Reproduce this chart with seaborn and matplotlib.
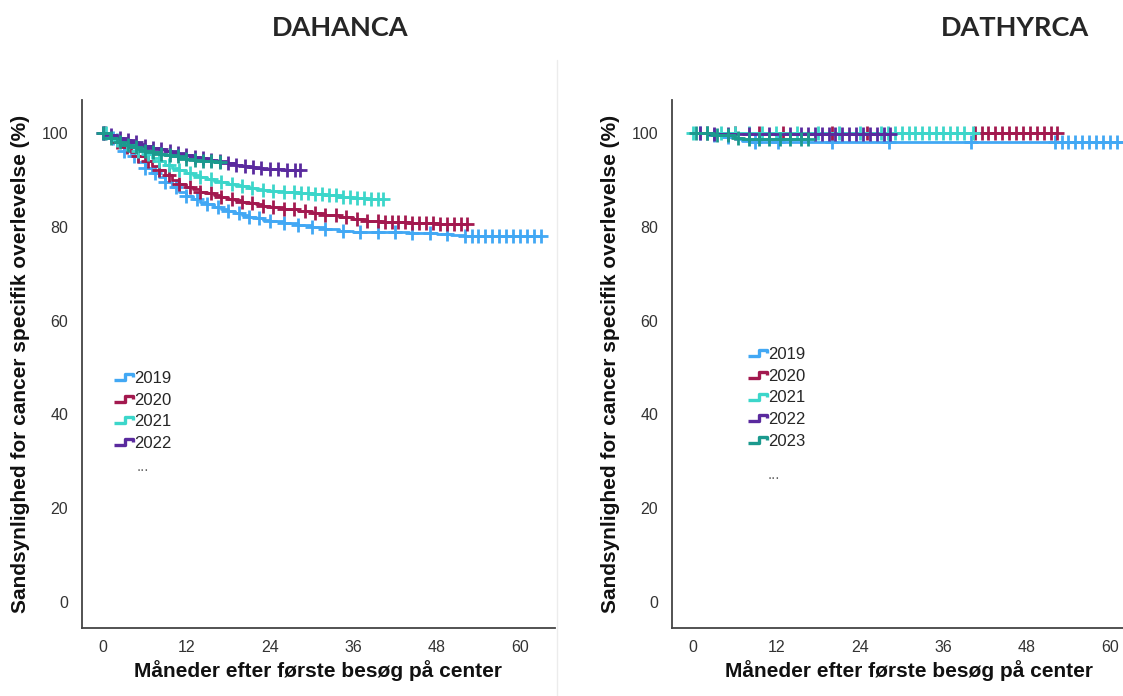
import numpy as np
import pandas as pd
import matplotlib
matplotlib.use("Agg")
import matplotlib.pyplot as plt
import seaborn as sns
from matplotlib.path import Path
from matplotlib.lines import Line2D

sns.set_theme(style="white")
plt.rcParams['font.family'] = ['Liberation Sans', 'DejaVu Sans']

years = ["2019", "2020", "2021", "2022", "2023"]
colors = ["#42A8F4", "#A3194F", "#3CD6CA", "#5A2A9E", "#1B9A8E"]
x_ticks = [0, 12, 24, 36, 48, 60]
y_ticks = [0, 20, 40, 60, 80, 100]

# ---------------- DAHANCA ----------------
dah_2019_t = [0, 1, 2, 3, 4, 5, 6, 7, 8, 9, 10, 11, 12, 13, 14, 15, 16, 17, 18, 19, 20, 21, 22, 23, 24,
              26, 28, 30, 32, 34, 36, 40, 44, 48, 50, 52, 63]
dah_2019_s = [100, 98.8, 97.5, 96.2, 95, 93.8, 92.5, 91.5, 90.5, 89.5, 88.5, 87.4, 86.5, 85.9, 85.3, 84.8,
              84.3, 83.8, 83.3, 82.9, 82.5, 82.1, 81.8, 81.5, 81.2,
              80.8, 80.4, 80.0, 79.5, 79.1, 78.9, 78.8, 78.7, 78.5, 78.3, 78.0, 78.0]
dah_2019_c = [0.2, 1.5, 3, 4.5, 6, 7.5, 9, 10.5, 12, 13.5, 15, 16.5, 18, 19.5, 21, 22.5, 24, 26, 28, 30, 32,
              34.5, 37, 39.5, 42, 44.5, 47, 49.5, 52, 53, 54, 55, 56, 57, 58, 59, 60, 61, 62, 63]

dah_2020_t = [0, 1, 2, 3, 4, 5, 6, 7, 8, 9, 10, 11, 12, 13, 14, 15, 16, 17, 18, 19, 20, 21, 22, 23, 24,
              26, 28, 30, 32, 34, 36, 38, 40, 44, 48, 52.3]
dah_2020_s = [100, 99, 98, 97, 96, 95, 94, 93, 92, 91, 90, 89.2, 88.5, 88, 87.5, 87.1, 86.8, 86.4, 86,
              85.6, 85.3, 85, 84.8, 84.5, 84.3,
              83.8, 83.4, 83.0, 82.5, 82.0, 81.6, 81.2, 80.9, 80.7, 80.6, 80.6]
dah_2020_c = [0.3, 2, 3.5, 5, 6.5, 8, 9.5, 11, 12.5, 14, 15.5, 17, 18.5, 20, 21.5, 23, 24.5, 26, 27.5, 29,
              30.5, 32, 33.5, 35, 36.5, 38, 39.5, 40.5, 41.5, 42.5, 43.5, 44.5, 45.5, 46.5, 47.5, 48.5,
              49.5, 50.5, 51.5, 52.3]

dah_2021_t = [0, 1, 2, 3, 4, 5, 6, 7, 8, 9, 10, 11, 12, 13, 14, 15, 16, 17, 18, 19, 20, 21, 22, 23, 24,
              26, 28, 30, 32, 34, 36, 38, 40.3]
dah_2021_s = [100, 99.2, 98.5, 97.7, 97, 96.2, 95.5, 94.7, 94, 93.2, 92.5, 92, 91.5, 91, 90.5, 90.1, 89.8,
              89.5, 89.2, 88.9, 88.6, 88.3, 88, 87.8, 87.6,
              87.4, 87.2, 87.0, 86.7, 86.4, 86.2, 86.0, 86.0]
dah_2021_c = [0.5, 2, 3.5, 5, 6.5, 8, 9.5, 11, 12.5, 14, 15.5, 17, 18.5, 20, 21.5, 23, 24.5, 26, 27.5,
              28.5, 29.5, 30.5, 31.5, 32.5, 33.5, 34.5, 35.5, 36.5, 37.5, 38.5, 39.5, 40.3]

dah_2022_t = [0, 1, 2, 3, 4, 5, 6, 7, 8, 9, 10, 11, 12, 13, 14, 15, 16, 17, 18, 19, 20, 21, 22, 23, 24,
              26, 28.3]
dah_2022_s = [100, 99.5, 99, 98.5, 98, 97.6, 97.2, 96.8, 96.5, 96.1, 95.8, 95.5, 95.2, 94.9, 94.6, 94.3,
              94, 93.7, 93.5, 93.2, 93, 92.8, 92.6, 92.4, 92.3, 92.1, 92.1]
dah_2022_c = [0, 1.2, 2.4, 3.6, 4.8, 6, 7.2, 8.4, 9.6, 10.8, 12, 13.2, 14.4, 15.6, 16.8, 18, 19.2, 20.4,
              21.6, 22.8, 24, 25.2, 26.4, 27.6, 28.3]

dah_2023_t = [0, 1, 2, 3, 4, 5, 6, 7, 8, 9, 10, 11, 12, 13, 14, 15, 16, 16.8]
dah_2023_s = [100, 99, 98, 97.5, 97, 96.6, 96.2, 95.9, 95.6, 95.3, 95, 94.7, 94.5, 94.3, 94.1, 93.9,
              93.8, 93.7]
dah_2023_c = [0, 1.2, 2.4, 3.6, 4.8, 6, 7.2, 8.4, 9.6, 10.8, 12, 13.2, 14.4, 15.6, 16.8]

# ---------------- DATHYRCA ----------------
dat_2019_t = [0, 2, 4, 6, 7, 8, 63]
dat_2019_s = [100, 99.6, 99.2, 98.7, 98.3, 98.0, 98.0]
dat_2019_c = [1, 3, 5, 9, 12.3, 20, 28.2, 40, 52, 53, 54, 55, 56, 57, 58, 59, 60, 61, 62, 63]

dat_2020_t = [0, 52.3]
dat_2020_s = [100, 100]
dat_2020_c = [2, 6, 9.5, 13, 20, 25, 40.5, 41.5, 42.5, 43.5, 44.5, 45.5, 46.5, 47.5, 48.5, 49.5, 50.5,
              51.5, 52.3]

dat_2021_t = [0, 40.3]
dat_2021_s = [100, 100]
dat_2021_c = [0, 2, 4, 6, 8, 10, 12, 15, 18, 21, 24, 27, 28, 29, 30, 31, 32, 33, 34, 35, 36, 37, 38, 39,
              40.3]

dat_2022_t = [0, 3, 28.3]
dat_2022_s = [100, 99.8, 99.8]
dat_2022_c = [1, 3, 5, 8, 11, 14, 15.5, 16.5, 17.5, 18.5, 19.5, 20.5, 21.5, 22.5, 23.5, 24.5, 25.5, 26.5,
              27.5, 28.3]

dat_2023_t = [0, 3, 6, 7, 16.5]
dat_2023_s = [100, 99.6, 99.0, 98.7, 98.7]
dat_2023_c = [0.5, 2, 3.5, 5, 6.5, 8, 9.5, 11, 12.5, 14, 15.5, 16.5]

dah = [(dah_2019_t, dah_2019_s, dah_2019_c), (dah_2020_t, dah_2020_s, dah_2020_c),
       (dah_2021_t, dah_2021_s, dah_2021_c), (dah_2022_t, dah_2022_s, dah_2022_c),
       (dah_2023_t, dah_2023_s, dah_2023_c)]
dat = [(dat_2019_t, dat_2019_s, dat_2019_c), (dat_2020_t, dat_2020_s, dat_2020_c),
       (dat_2021_t, dat_2021_s, dat_2021_c), (dat_2022_t, dat_2022_s, dat_2022_c),
       (dat_2023_t, dat_2023_s, dat_2023_c)]


def step_value(t, s, x):
    idx = np.searchsorted(np.asarray(t), x, side="right") - 1
    return np.asarray(s)[np.clip(idx, 0, len(s) - 1)]


W, H = 1123, 696
fig = plt.figure(figsize=(W / 100, H / 100), dpi=100)
ax_w = 473 / W
ax_h = 528 / H
ax1 = fig.add_axes([82 / W, 68 / H, ax_w, ax_h])
ax2 = fig.add_axes([672 / W, 68 / H, ax_w, ax_h])

step_path = Path([(-1.0, -0.3), (0.1, -0.3), (0.1, 0.3), (0.85, 0.3), (0.85, 0.0)],
                 [Path.MOVETO, Path.LINETO, Path.LINETO, Path.LINETO, Path.LINETO])

ylabel = "Sandsynlighed for cancer specifik overlevelse (%)"
xlabel = "Måneder efter første besøg på center"

for ax, data, nleg, leg_anchor, dots_pos in [
        (ax1, dah, 4, (0.060, 0.487), (0.128, 0.305)),
        (ax2, dat, 5, (0.154, 0.532), (0.215, 0.29))]:
    for i, (t, s, c) in enumerate(data):
        df = pd.DataFrame({"t": t, "s": s})
        sns.lineplot(data=df, x="t", y="s", drawstyle="steps-post", color=colors[i], lw=2.0,
                     estimator=None, sort=False, ax=ax, zorder=2 + i)
        cdf = pd.DataFrame({"t": c, "s": step_value(t, s, np.asarray(c))})
        sns.scatterplot(data=cdf, x="t", y="s", marker="+", s=90, linewidth=2.0, color=colors[i],
                        ax=ax, zorder=2 + i, legend=False)
    ax.set_xlim(-3, 65)
    ax.set_ylim(-5.5, 107)
    ax.set_xticks(x_ticks)
    ax.set_yticks(y_ticks)
    ax.tick_params(length=0, labelsize=11.5, colors="#333333")
    ax.tick_params(axis="y", pad=10)
    ax.tick_params(axis="x", pad=9)
    for sp in ["top", "right"]:
        ax.spines[sp].set_visible(False)
    for sp in ["left", "bottom"]:
        ax.spines[sp].set_color("#444444")
        ax.spines[sp].set_linewidth(1.3)
    ax.set_xlabel(xlabel, fontsize=15, fontweight="bold", labelpad=3, color="#111111")
    ax.set_ylabel(ylabel, fontsize=15, fontweight="bold", labelpad=8, color="#111111")
    handles = [Line2D([], [], marker=step_path, linestyle="None", markersize=15, mew=2.4,
                      color=colors[k], fillstyle="none") for k in range(nleg)]
    ax.legend(handles, years[:nleg], loc="upper left", bbox_to_anchor=leg_anchor, frameon=False,
              fontsize=12, handletextpad=-0.2, labelspacing=0.4, borderpad=0, borderaxespad=0,
              handlelength=1.6)
    ax.text(dots_pos[0], dots_pos[1], "...", transform=ax.transAxes, fontsize=11, color="#666666",
            ha="center", va="center")

fig.text(340 / W, 1 - 28 / H, "DAHANCA", ha="center", va="center", fontsize=19.5,
         fontweight="bold", family=["Lato", "DejaVu Sans"])
fig.text(1015 / W, 1 - 28 / H, "DATHYRCA", ha="center", va="center", fontsize=19.5,
         fontweight="bold", family=["Lato", "DejaVu Sans"])
fig.add_artist(Line2D([557 / W, 557 / W], [0, 1 - 60 / H], transform=fig.transFigure,
                      color="#ececec", lw=1))

fig.savefig("out.png", dpi=100)
